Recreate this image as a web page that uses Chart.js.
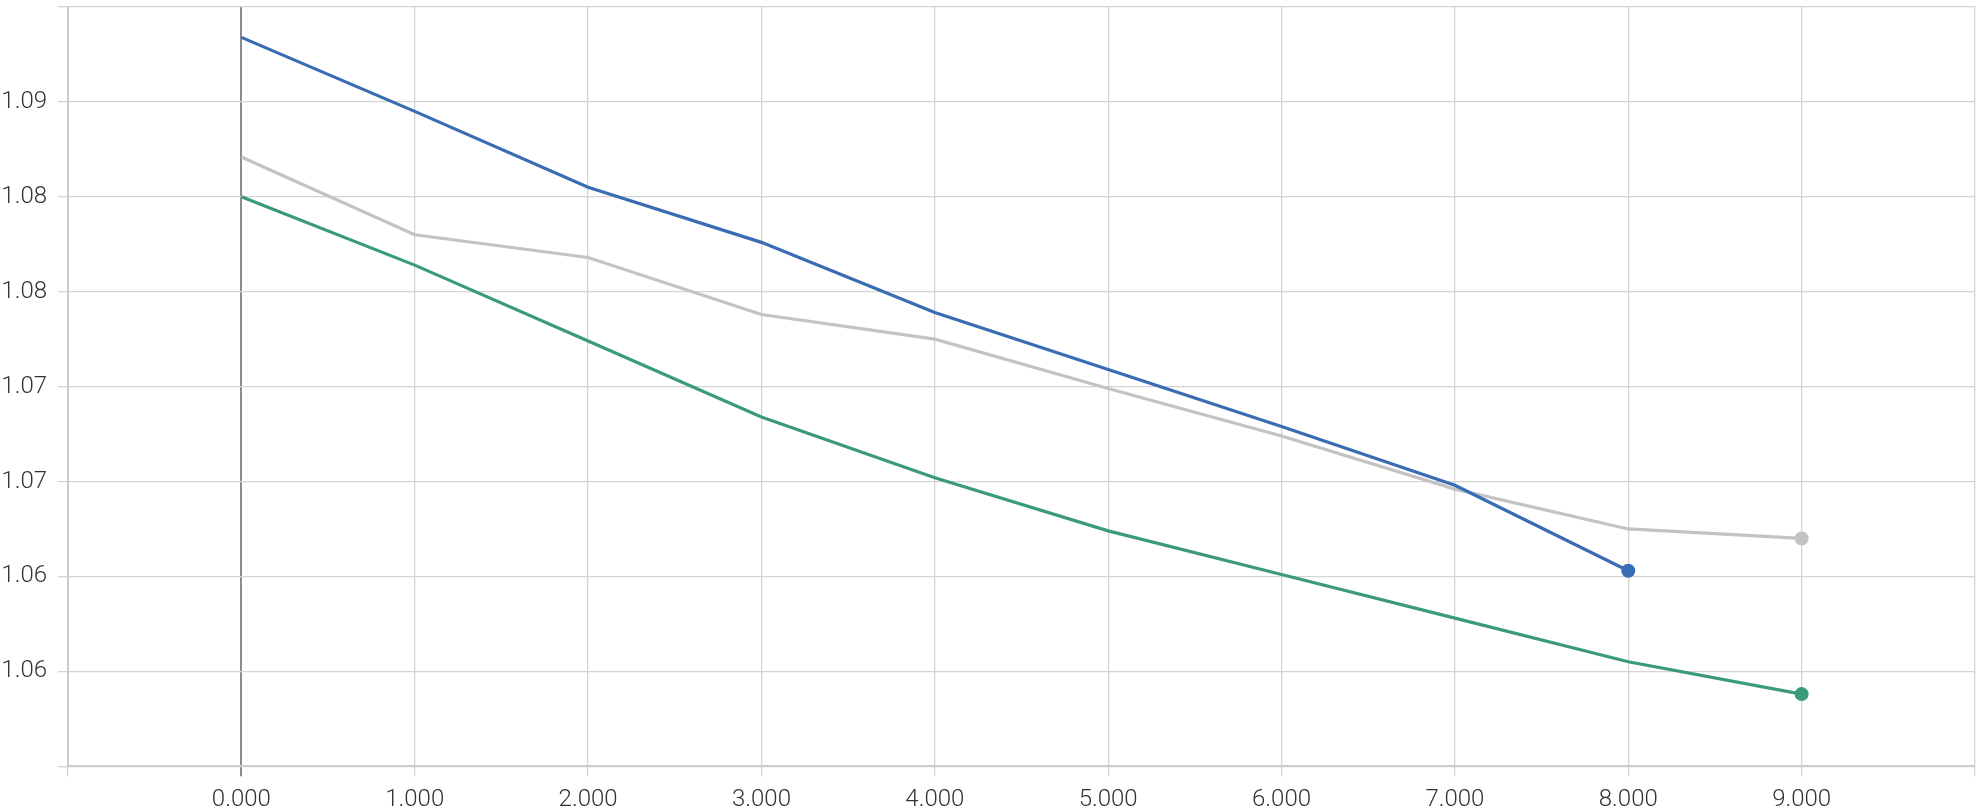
<!DOCTYPE html>
<html>
<head>
<meta charset="utf-8">
<script src="https://cdn.jsdelivr.net/npm/chart.js@4/dist/chart.umd.min.js"></script>
<style>
  html, body { margin: 0; padding: 0; background: #ffffff; }
  #wrap { width: 1982px; height: 810px; position: relative; }
</style>
</head>
<body>
<div id="wrap"><canvas id="c"></canvas></div>
<script>
const xValues = [0, 1, 2, 3, 4, 5, 6, 7, 8, 9];
const blueSeries  = [1.0934, 1.0895, 1.0855, 1.0826, 1.0789, 1.0759, 1.0729, 1.0698, 1.0653];
const graySeries  = [1.0871, 1.0830, 1.0818, 1.0788, 1.0775, 1.0749, 1.0724, 1.0696, 1.0675, 1.0670];
const greenSeries = [1.0850, 1.0814, 1.0774, 1.0734, 1.0702, 1.0674, 1.0651, 1.0628, 1.0605, 1.0588];
const yTickLabels = ['', '1.06', '1.06', '1.07', '1.07', '1.08', '1.08', '1.09', ''];
const xTickLabels = ['', '0.000', '1.000', '2.000', '3.000', '4.000', '5.000', '6.000', '7.000', '8.000', '9.000', ''];

function pts(vals) { return vals.map((v, i) => ({ x: xValues[i], y: v })); }
function lastOnly(vals, r) { return vals.map((v, i) => i === vals.length - 1 ? r : 0); }

const tickFont = { family: 'Roboto, "Liberation Sans", sans-serif', size: 24, weight: '300' };

new Chart(document.getElementById('c'), {
  type: 'line',
  data: {
    datasets: [
      { data: pts(blueSeries), borderColor: '#3a6cb3', backgroundColor: '#3a6cb3', borderWidth: 3.2,
        pointRadius: lastOnly(blueSeries, 7), pointBorderWidth: 0, tension: 0 },
      { data: pts(graySeries), borderColor: '#c3c3c3', backgroundColor: '#c3c3c3', borderWidth: 3.2,
        pointRadius: lastOnly(graySeries, 7), pointBorderWidth: 0, tension: 0 },
      { data: pts(greenSeries), borderColor: '#3b9a7c', backgroundColor: '#3b9a7c', borderWidth: 3.2,
        pointRadius: lastOnly(greenSeries, 7), pointBorderWidth: 0, tension: 0 }
    ]
  },
  options: {
    responsive: true,
    maintainAspectRatio: false,
    animation: false,
    layout: { padding: { left: 0, top: 7, right: 6, bottom: -13 } },
    plugins: { legend: { display: false }, tooltip: { enabled: false } },
    scales: {
      x: {
        type: 'linear',
        min: -1, max: 10,
        afterFit: scale => { scale.paddingLeft = 0; scale.paddingRight = 0; },
        ticks: {
          stepSize: 1,
          autoSkip: false,
          maxRotation: 0,
          padding: 9,
          color: '#333333',
          font: tickFont,
          callback: (v, i) => xTickLabels[i]
        },
        grid: {
          color: ctx => (ctx.tick && ctx.tick.value === 0) ? '#8c8c8c' : '#d4d4d4',
          lineWidth: ctx => (ctx.tick && ctx.tick.value === 0) ? 2 : 1.3,
          tickLength: 10
        },
        border: { color: '#cccccc', width: 2 }
      },
      y: {
        type: 'linear',
        min: 1.055, max: 1.095,
        afterFit: scale => { scale.width = 68; scale.paddingTop = 0; },
        ticks: {
          stepSize: 0.005,
          autoSkip: false,
          padding: 11,
          color: '#333333',
          font: tickFont,
          callback: (v, i) => yTickLabels[i]
        },
        grid: { color: '#d4d4d4', lineWidth: 1.3, tickLength: 10 },
        border: { color: '#cccccc', width: 2 }
      }
    }
  }
});
</script>
</body>
</html>
